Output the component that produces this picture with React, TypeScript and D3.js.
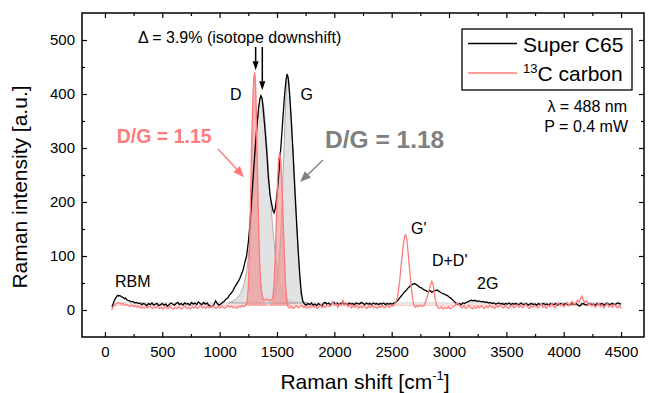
import React, { useEffect, useRef } from 'react';
import * as d3 from 'd3';

// Super C65 spectrum [shift cm-1, intensity]
const superC65: [number, number][] = [
  [60, 6], [70, 10], [80, 16], [90, 21], [100, 24], [110, 27], [120, 26], [130, 27], [140, 25], [150, 24],
  [160, 23], [170, 21], [180, 22], [190, 19], [200, 18], [215, 17], [230, 15], [245, 16], [260, 13], [275, 14],
  [290, 12], [305, 13], [320, 10], [335, 12], [350, 11], [365, 8], [380, 12], [395, 10], [410, 13], [425, 9],
  [440, 11], [455, 12], [470, 8], [485, 10], [500, 12], [515, 9], [530, 11], [545, 7], [560, 10], [575, 13],
  [590, 11], [605, 9], [620, 12], [635, 14], [650, 10], [665, 12], [680, 9], [695, 13], [710, 11], [725, 12],
  [740, 9], [755, 14], [770, 11], [785, 13], [800, 10], [815, 15], [830, 12], [845, 10], [860, 14], [875, 11],
  [890, 13], [905, 9], [920, 7], [935, 6], [950, 10], [965, 17], [980, 12], [995, 9], [1010, 11], [1025, 14],
  [1040, 16], [1055, 20], [1070, 22], [1085, 27], [1100, 31], [1115, 35], [1130, 42], [1145, 47], [1160, 52],
  [1175, 58], [1190, 66], [1205, 74], [1220, 88], [1235, 100], [1250, 125], [1265, 160], [1280, 210],
  [1295, 255], [1310, 300], [1325, 340], [1340, 375], [1350, 390], [1360, 397], [1370, 392], [1380, 372],
  [1395, 335], [1410, 295], [1425, 245], [1440, 212], [1455, 195], [1465, 184], [1475, 180], [1485, 188],
  [1495, 205], [1505, 225], [1520, 262], [1535, 305], [1550, 350], [1565, 395], [1578, 425], [1588, 437],
  [1598, 430], [1610, 400], [1625, 350], [1640, 290], [1655, 225], [1670, 165], [1685, 110], [1700, 62],
  [1712, 32], [1725, 16], [1740, 11], [1755, 9], [1770, 12], [1785, 10], [1800, 13], [1815, 9], [1830, 11],
  [1845, 8], [1860, 12], [1875, 10], [1890, 7], [1905, 12], [1920, 14], [1935, 11], [1950, 13], [1965, 10],
  [1980, 12], [1995, 14], [2010, 11], [2025, 13], [2040, 10], [2055, 12], [2070, 14], [2085, 11], [2100, 12],
  [2115, 10], [2130, 13], [2145, 11], [2160, 12], [2175, 10], [2190, 13], [2205, 12], [2220, 11], [2235, 14],
  [2250, 12], [2265, 10], [2280, 13], [2295, 11], [2310, 12], [2325, 10], [2340, 13], [2355, 11], [2370, 12],
  [2385, 10], [2400, 12], [2415, 11], [2430, 13], [2445, 10], [2460, 12], [2475, 11], [2490, 12], [2505, 11],
  [2520, 13], [2535, 14], [2550, 17], [2565, 21], [2580, 25], [2595, 29], [2610, 33], [2625, 36], [2640, 40],
  [2655, 43], [2670, 46], [2685, 48], [2700, 49], [2715, 47], [2730, 45], [2745, 42], [2760, 41], [2775, 38],
  [2790, 37], [2805, 35], [2820, 34], [2835, 36], [2850, 33], [2865, 35], [2880, 36], [2895, 37], [2910, 35],
  [2925, 33], [2940, 31], [2955, 30], [2970, 28], [2985, 27], [3000, 24], [3015, 22], [3030, 19], [3045, 16],
  [3060, 13], [3075, 11], [3090, 12], [3105, 10], [3120, 13], [3135, 12], [3150, 14], [3165, 15], [3180, 17],
  [3195, 18], [3210, 17], [3225, 18], [3240, 16], [3255, 17], [3270, 16], [3285, 15], [3300, 16], [3315, 14],
  [3330, 15], [3345, 13], [3360, 14], [3375, 12], [3390, 13], [3405, 11], [3420, 12], [3435, 13], [3450, 11],
  [3465, 12], [3480, 10], [3495, 12], [3510, 11], [3525, 13], [3540, 10], [3555, 12], [3570, 11], [3585, 12],
  [3600, 10], [3615, 11], [3630, 13], [3645, 10], [3660, 11], [3675, 12], [3690, 9], [3705, 11], [3720, 12],
  [3735, 10], [3750, 11], [3765, 9], [3780, 12], [3795, 10], [3810, 11], [3825, 12], [3840, 10], [3855, 11],
  [3870, 9], [3885, 12], [3900, 11], [3915, 10], [3930, 12], [3945, 9], [3960, 11], [3975, 12], [3990, 10],
  [4005, 11], [4020, 12], [4035, 10], [4050, 9], [4065, 12], [4080, 11], [4095, 10], [4110, 12], [4125, 9],
  [4140, 7], [4155, 11], [4170, 12], [4185, 10], [4200, 9], [4215, 11], [4230, 12], [4245, 10], [4260, 11],
  [4275, 9], [4290, 12], [4305, 10], [4320, 11], [4335, 12], [4350, 9], [4365, 11], [4380, 13], [4395, 10],
  [4410, 11], [4425, 12], [4440, 10], [4455, 11], [4470, 13], [4485, 12], [4500, 11],
];

// 13C carbon spectrum
const carbon13: [number, number][] = [
  [58, 0], [70, 5], [85, 9], [100, 12], [115, 14], [130, 13], [145, 11], [160, 12], [175, 9], [190, 10],
  [205, 8], [220, 7], [235, 9], [250, 6], [265, 8], [280, 5], [295, 7], [310, 4], [325, 6], [340, 3],
  [355, 6], [370, 4], [385, 7], [400, 5], [415, 3], [430, 6], [445, 4], [460, 7], [475, 3], [490, 5],
  [505, 2], [520, 6], [535, 4], [550, 3], [565, 7], [580, 4], [595, 2], [610, 5], [625, 3], [640, 6],
  [655, 4], [670, 2], [685, 5], [700, 7], [715, 3], [730, 5], [745, 2], [760, 6], [775, 4], [790, 7],
  [805, 3], [820, 5], [835, 8], [850, 4], [865, 6], [880, 3], [895, 7], [910, 4], [925, 6], [940, 8],
  [955, 5], [970, 3], [985, 6], [1000, 4], [1015, 7], [1030, 5], [1045, 3], [1060, 6], [1075, 8], [1090, 5],
  [1105, 7], [1120, 4], [1135, 6], [1150, 3], [1165, 7], [1180, 5], [1195, 8], [1210, 6], [1225, 9],
  [1240, 14], [1250, 40], [1260, 110], [1270, 210], [1280, 320], [1290, 395], [1298, 430], [1305, 440],
  [1312, 425], [1320, 360], [1330, 250], [1340, 150], [1350, 80], [1360, 45], [1370, 28], [1380, 20],
  [1395, 18], [1410, 21], [1425, 17], [1440, 19], [1455, 18], [1465, 25], [1475, 50], [1485, 100],
  [1495, 170], [1505, 240], [1515, 280], [1525, 292], [1535, 270], [1545, 225], [1555, 160], [1565, 95],
  [1575, 45], [1585, 18], [1595, 6], [1610, 4], [1625, 7], [1640, 3], [1655, 5], [1670, 8], [1685, 4],
  [1700, 6], [1715, 9], [1730, 5], [1745, 7], [1760, 3], [1775, 6], [1790, 4], [1805, 8], [1820, 5],
  [1835, 7], [1850, 3], [1865, 6], [1880, 9], [1895, 4], [1910, 7], [1925, 5], [1940, 10], [1955, 6],
  [1970, 8], [1985, 15], [2000, 9], [2015, 12], [2030, 5], [2045, 11], [2060, 8], [2075, 18], [2090, 9],
  [2105, 12], [2120, 6], [2135, 10], [2150, 4], [2165, 8], [2180, 5], [2195, 9], [2210, 3], [2225, 7],
  [2240, 4], [2255, 8], [2270, 5], [2285, 3], [2300, 7], [2315, 5], [2330, 9], [2345, 4], [2360, 6],
  [2375, 3], [2390, 7], [2405, 5], [2420, 8], [2435, 4], [2450, 6], [2465, 9], [2480, 5], [2495, 8],
  [2510, 7], [2525, 10], [2540, 16], [2555, 28], [2570, 55], [2585, 88], [2600, 118], [2612, 136],
  [2622, 139], [2632, 130], [2642, 110], [2652, 85], [2662, 62], [2672, 40], [2682, 22], [2692, 10],
  [2705, 5], [2720, 8], [2735, 6], [2750, 9], [2765, 7], [2780, 8], [2795, 15], [2810, 24], [2825, 36],
  [2838, 46], [2850, 53], [2860, 48], [2870, 35], [2880, 20], [2892, 9], [2905, 4], [2920, 3], [2935, 6],
  [2950, 2], [2965, 5], [2980, 3], [2995, 6], [3010, 2], [3025, 4], [3040, 7], [3055, 9], [3070, 13],
  [3085, 11], [3100, 6], [3115, 4], [3130, 8], [3145, 3], [3160, 5], [3175, 9], [3190, 4], [3205, 2],
  [3220, 6], [3235, 3], [3250, 7], [3265, 4], [3280, 8], [3295, 5], [3310, 3], [3325, 7], [3340, 4],
  [3355, 9], [3370, 5], [3385, 6], [3400, 3], [3415, 8], [3430, 5], [3445, 10], [3460, 6], [3475, 4],
  [3490, 8], [3505, 5], [3520, 3], [3535, 7], [3550, 9], [3565, 4], [3580, 6], [3595, 10], [3610, 5],
  [3625, 8], [3640, 4], [3655, 7], [3670, 11], [3685, 6], [3700, 3], [3715, 8], [3730, 5], [3745, 9],
  [3760, 6], [3775, 4], [3790, 8], [3805, 11], [3820, 5], [3835, 7], [3850, 3], [3865, 9], [3880, 6],
  [3895, 12], [3910, 7], [3925, 4], [3940, 10], [3955, 13], [3970, 8], [3985, 11], [4000, 6], [4015, 9],
  [4030, 14], [4045, 8], [4060, 12], [4075, 16], [4090, 10], [4105, 13], [4120, 18], [4135, 15], [4150, 23],
  [4160, 26], [4170, 19], [4185, 14], [4200, 17], [4215, 9], [4230, 12], [4245, 7], [4260, 11], [4275, 5],
  [4290, 9], [4305, 13], [4320, 6], [4335, 10], [4350, 4], [4365, 8], [4380, 12], [4395, 6], [4410, 9],
  [4425, 5], [4440, 11], [4455, 7], [4470, 4], [4485, 8], [4500, 3],
];

// peak fits (filled areas)
const fitD_C65: [number, number][] = [
  [1080, 14], [1120, 17], [1160, 24], [1190, 34], [1215, 50], [1240, 80], [1260, 120], [1280, 180],
  [1300, 250], [1320, 320], [1340, 372], [1360, 395], [1380, 382], [1400, 340], [1420, 280], [1440, 215],
  [1460, 160], [1480, 115], [1500, 80], [1520, 55], [1545, 36], [1575, 24], [1620, 17], [1680, 14],
];
const fitG_C65: [number, number][] = [
  [1440, 15], [1470, 24], [1495, 45], [1515, 80], [1535, 150], [1555, 260], [1570, 350], [1582, 410],
  [1592, 432], [1602, 425], [1615, 390], [1630, 335], [1645, 280], [1660, 220], [1675, 150], [1690, 85],
  [1705, 40], [1720, 20], [1740, 14], [1770, 13],
];
const fitD_13C: [number, number][] = [
  [1220, 9], [1240, 12], [1255, 25], [1265, 70], [1275, 170], [1285, 300], [1295, 400], [1305, 438],
  [1315, 405], [1325, 310], [1335, 200], [1345, 115], [1355, 60], [1370, 28], [1390, 14], [1410, 10],
];
const fitG_13C: [number, number][] = [
  [1440, 10], [1460, 14], [1475, 35], [1488, 90], [1500, 180], [1512, 260], [1525, 292], [1538, 262],
  [1550, 190], [1562, 110], [1575, 48], [1590, 18], [1610, 10],
];
const baseC65 = 13;
const base13C = 9;
const baseRange = [60, 4500];

const xTicks = [0, 500, 1000, 1500, 2000, 2500, 3000, 3500, 4000, 4500];
const xMinor = [250, 750, 1250, 1750, 2250, 2750, 3250, 3750, 4250];
const yTicks = [0, 100, 200, 300, 400, 500];
const yMinor = [50, 150, 250, 350, 450];

const seriesNames = ['Super C65', '13C carbon'];

const FONT = '"Liberation Sans", Arial, Helvetica, sans-serif';
const RED = '#ff7b7b';
const GRAY_TXT = '#808080';

const App = () => {
  const ref = useRef<SVGSVGElement>(null);

  useEffect(() => {
    const svg = d3.select(ref.current);
    svg.selectAll('*').remove();

    const left = 82, right = 644, top = 13, bottom = 337;
    const x = d3.scaleLinear().domain([-200, 4700]).range([left, right]);
    const y = d3.scaleLinear().domain([-50, 550]).range([bottom, top]);

    svg.append('clipPath').attr('id', 'plotclip')
      .append('rect').attr('x', left).attr('y', top).attr('width', right - left).attr('height', bottom - top);

    const plot = svg.append('g').attr('clip-path', 'url(#plotclip)');

    // fit baselines
    plot.append('line')
      .attr('x1', x(baseRange[0])).attr('x2', x(baseRange[1]))
      .attr('y1', y(baseC65)).attr('y2', y(baseC65))
      .attr('stroke', '#c8c8c8').attr('stroke-width', 1);
    plot.append('line')
      .attr('x1', x(baseRange[0])).attr('x2', x(baseRange[1]))
      .attr('y1', y(base13C)).attr('y2', y(base13C))
      .attr('stroke', '#ffb0b0').attr('stroke-width', 1);

    const areaC65 = d3.area<[number, number]>()
      .x(d => x(d[0])).y0(y(baseC65)).y1(d => y(d[1])).curve(d3.curveMonotoneX);
    const area13C = d3.area<[number, number]>()
      .x(d => x(d[0])).y0(y(base13C)).y1(d => y(d[1])).curve(d3.curveMonotoneX);

    [fitD_C65, fitG_C65].forEach(f => {
      plot.append('path').datum(f).attr('d', areaC65)
        .attr('fill', '#d6d6d6').attr('fill-opacity', 0.7)
        .attr('stroke', '#9a9a9a').attr('stroke-width', 0.8);
    });
    [fitD_13C, fitG_13C].forEach(f => {
      plot.append('path').datum(f).attr('d', area13C)
        .attr('fill', '#f28a8a').attr('fill-opacity', 0.6)
        .attr('stroke', '#ff9a9a').attr('stroke-width', 0.8);
    });

    const line = d3.line<[number, number]>().x(d => x(d[0])).y(d => y(d[1]));
    plot.append('path').datum(superC65).attr('d', line)
      .attr('fill', 'none').attr('stroke', '#000').attr('stroke-width', 1.3);
    plot.append('path').datum(carbon13).attr('d', line)
      .attr('fill', 'none').attr('stroke', RED).attr('stroke-width', 1.3);

    // axes, ticks inward on all four sides
    const styleAxis = (g: any) => {
      g.select('.domain').remove();
      g.selectAll('line').attr('stroke', '#000').attr('stroke-width', 1.2);
      g.attr('font-family', FONT).attr('font-size', 15);
      g.selectAll('text').attr('fill', '#000');
    };
    const fmt = d3.format('d');
    svg.append('g').attr('transform', `translate(0,${bottom})`)
      .call(d3.axisBottom(x).tickValues(xTicks).tickSize(-5).tickPadding(9).tickFormat(fmt)).call(styleAxis);
    svg.append('g').attr('transform', `translate(0,${bottom})`)
      .call(d3.axisBottom(x).tickValues(xMinor).tickSize(-3).tickFormat(() => '')).call(styleAxis);
    svg.append('g').attr('transform', `translate(0,${top})`)
      .call(d3.axisTop(x).tickValues(xTicks).tickSize(-5).tickFormat(() => '')).call(styleAxis);
    svg.append('g').attr('transform', `translate(0,${top})`)
      .call(d3.axisTop(x).tickValues(xMinor).tickSize(-3).tickFormat(() => '')).call(styleAxis);
    svg.append('g').attr('transform', `translate(${left},0)`)
      .call(d3.axisLeft(y).tickValues(yTicks).tickSize(-5).tickPadding(7).tickFormat(fmt)).call(styleAxis);
    svg.append('g').attr('transform', `translate(${left},0)`)
      .call(d3.axisLeft(y).tickValues(yMinor).tickSize(-3).tickFormat(() => '')).call(styleAxis);
    svg.append('g').attr('transform', `translate(${right},0)`)
      .call(d3.axisRight(y).tickValues(yTicks).tickSize(-5).tickFormat(() => '')).call(styleAxis);
    svg.append('g').attr('transform', `translate(${right},0)`)
      .call(d3.axisRight(y).tickValues(yMinor).tickSize(-3).tickFormat(() => '')).call(styleAxis);

    svg.append('rect')
      .attr('x', left).attr('y', top).attr('width', right - left).attr('height', bottom - top)
      .attr('fill', 'none').attr('stroke', '#000').attr('stroke-width', 1.5);

    // axis titles
    const xt = svg.append('text')
      .attr('x', (left + right) / 2 + 2).attr('y', 389)
      .attr('text-anchor', 'middle').attr('font-family', FONT).attr('font-size', 21);
    xt.append('tspan').text('Raman shift [cm');
    xt.append('tspan').attr('font-size', 13).attr('dy', -9).text('-1');
    xt.append('tspan').attr('dy', 9).text(']');

    svg.append('text')
      .attr('transform', `translate(27,${(top + bottom) / 2 + 12}) rotate(-90)`)
      .attr('text-anchor', 'middle').attr('font-family', FONT).attr('font-size', 21)
      .text('Raman intensity [a.u.]');

    const label = (sx: number, sy: number, txt: string, size: number, opts: any = {}) =>
      svg.append('text')
        .attr('x', x(sx)).attr('y', y(sy))
        .attr('font-family', FONT).attr('font-size', size)
        .attr('font-weight', opts.weight || 'normal')
        .attr('fill', opts.color || '#000')
        .attr('text-anchor', opts.anchor || 'start')
        .text(txt);

    const arrow = (x1: number, y1: number, x2: number, y2: number, color: string, w: number, hl: number, hw: number) => {
      const px1 = x(x1), py1 = y(y1), px2 = x(x2), py2 = y(y2);
      const a = Math.atan2(py2 - py1, px2 - px1);
      const bx = px2 - hl * Math.cos(a), by = py2 - hl * Math.sin(a);
      svg.append('line').attr('x1', px1).attr('y1', py1).attr('x2', bx).attr('y2', by)
        .attr('stroke', color).attr('stroke-width', w);
      const nx = -Math.sin(a) * hw / 2, ny = Math.cos(a) * hw / 2;
      svg.append('path')
        .attr('d', `M${px2},${py2}L${bx + nx},${by + ny}L${bx - nx},${by - ny}Z`)
        .attr('fill', color);
    };

    // annotations
    label(288, 495, '\u0394 = 3.9% (isotope downshift)', 16);
    arrow(1314, 487, 1314, 444, '#000', 1.5, 9, 6);
    arrow(1372, 487, 1372, 407, '#000', 1.5, 9, 6);
    label(1140, 389, 'D', 16, { anchor: 'middle' });
    label(1759, 389, 'G', 16, { anchor: 'middle' });
    label(103, 309, 'D/G = 1.15', 19.5, { weight: 'bold', color: RED });
    label(1919, 300, 'D/G = 1.18', 24.5, { weight: 'bold', color: GRAY_TXT });
    arrow(986, 298, 1213, 246, RED, 1.4, 11, 9);
    arrow(1901, 278, 1701, 237, GRAY_TXT, 1.4, 11, 9);
    label(88, 43, 'RBM', 16);
    label(2668, 141, "G'", 16);
    label(2851, 81, "D+D'", 16);
    label(3244, 39, '2G', 16);

    // legend
    const lg = svg.append('g').attr('transform', `translate(${right - 182},29)`);
    lg.append('rect').attr('width', 170).attr('height', 61)
      .attr('fill', '#fff').attr('stroke', '#000').attr('stroke-width', 1.3);
    const colors = ['#000', RED];
    seriesNames.forEach((name, i) => {
      const yy = 14.5 + i * 29.5;
      lg.append('line').attr('x1', 6).attr('x2', 55).attr('y1', yy).attr('y2', yy)
        .attr('stroke', colors[i]).attr('stroke-width', 1.3);
      const t = lg.append('text').attr('x', 61).attr('y', yy + 8)
        .attr('font-family', FONT).attr('font-size', 21);
      if (name.startsWith('13')) {
        t.append('tspan').attr('font-size', 13).attr('dy', -8).text('13');
        t.append('tspan').attr('dy', 8).text(name.slice(2));
      } else {
        t.text(name);
      }
    });

    svg.append('text').attr('x', right - 17).attr('y', 112)
      .attr('text-anchor', 'end').attr('font-family', FONT).attr('font-size', 16)
      .text('\u03bb = 488 nm');
    svg.append('text').attr('x', right - 16).attr('y', 132)
      .attr('text-anchor', 'end').attr('font-family', FONT).attr('font-size', 16)
      .text('P = 0.4 mW');
  }, []);

  return (
    <svg ref={ref} width={649} height={393}
      style={{ position: 'absolute', left: 0, top: 0, background: '#fff' }} />
  );
};

export default App;
